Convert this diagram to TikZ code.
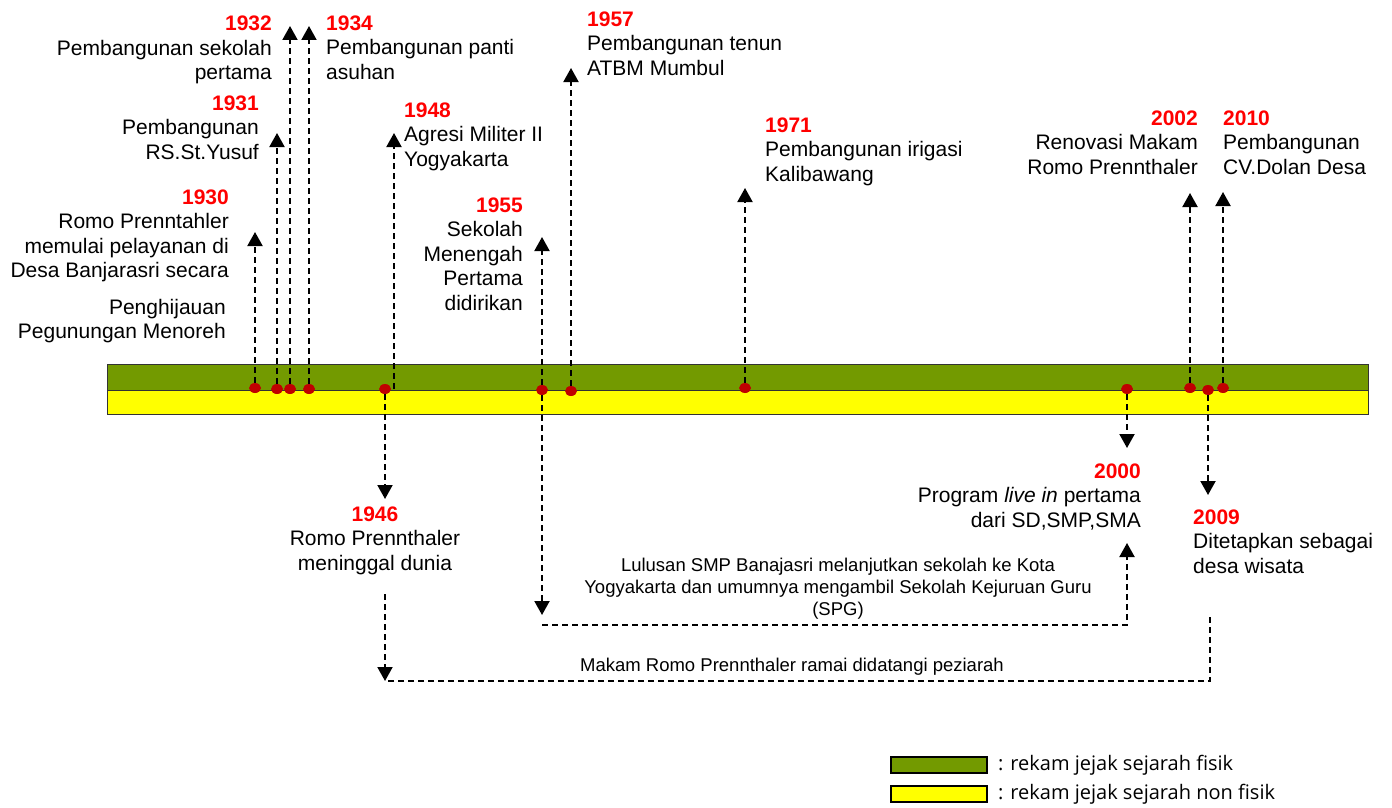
\documentclass[tikz,border=0pt]{standalone}
\usepackage{fontspec}
\setmainfont{Liberation Sans}
\newfontfamily\legendfont{Open Sans}
\usetikzlibrary{shapes.geometric, arrows.meta}
\definecolor{bandgreen}{RGB}{115,154,0}
\definecolor{bandyellow}{RGB}{255,255,0}
\definecolor{dotred}{RGB}{192,0,0}
\definecolor{yearred}{RGB}{255,0,0}
\tikzstyle{dot} = [ellipse, fill=dotred, minimum width=12pt, minimum height=10pt, inner sep=0pt]
\tikzstyle{event} = [inner sep=0pt, font=\fontsize{21}{24.5}\selectfont]
\tikzstyle{note} = [inner sep=0pt, align=center, font=\fontsize{18.5}{22}\selectfont]
\tikzstyle{legend} = [inner sep=0pt, anchor=west, font=\legendfont\fontsize{20}{22}\selectfont]
\tikzstyle{arrow} = [line width=2pt, dash pattern=on 6pt off 4pt, -{Triangle[width=15pt,length=14pt]}]
\tikzstyle{link} = [line width=2pt, dash pattern=on 6pt off 4pt]
\tikzstyle{band} = [draw=black!80, line width=1pt]
\newcommand{\yr}[1]{{\color{yearred}\bfseries #1}}

\begin{document}
\begin{tikzpicture}[x=1pt, y=-1pt]

\useasboundingbox (0,0) rectangle (1392,808);

\draw [band, fill=bandgreen] (107,364) rectangle (1368,390);
\draw [band, fill=bandyellow] (107,390) rectangle (1368,414);

\node (d1930) [dot] at (255,388) {};
\node (d1931) [dot] at (277,389) {};
\node (d1932) [dot] at (290,389) {};
\node (d1934) [dot] at (309,389) {};
\node (d1946) [dot] at (385,389) {};
\node (d1955) [dot] at (542,390) {};
\node (d1957) [dot] at (571,391) {};
\node (d1971) [dot] at (745,388) {};
\node (d2000) [dot] at (1127,389) {};
\node (d2002) [dot] at (1190,388) {};
\node (d2009) [dot] at (1208,390) {};
\node (d2010) [dot] at (1223,388) {};
\coordinate (b1948) at (394,389);

\coordinate (t1930) at (255,232);
\coordinate (t1931) at (277,133);
\coordinate (t1932) at (290,26);
\coordinate (t1934) at (309,26);
\coordinate (t1948) at (394,133);
\coordinate (t1955) at (542,237);
\coordinate (t1957) at (571,68);
\coordinate (t1971) at (745,188);
\coordinate (t2002) at (1190,193);
\coordinate (t2010) at (1223,192);
\coordinate (t1946) at (385,499);
\coordinate (t2000) at (1127,448);
\coordinate (t2009) at (1208,495);
\coordinate (t1955b) at (542,615);

\coordinate (m1946) at (385,594);
\coordinate (n1946) at (385,681);
\coordinate (m2009) at (1210,617);
\coordinate (m1955) at (542,625);
\coordinate (n2000) at (1127,543);

\node (l1932) [event, anchor=base east, align=right] at (272,80) {\yr{1932}\\Pembangunan sekolah\\pertama};
\node (l1934) [event, anchor=base west, align=left] at (326,79) {\yr{1934}\\Pembangunan panti\\asuhan};
\node (l1931) [event, anchor=base east, align=right] at (259,159) {\yr{1931}\\Pembangunan\\RS.St.Yusuf};
\node (l1930) [event, anchor=base east, align=right] at (229,277.5) {\yr{1930}\\Romo Prenntahler\\memulai pelayanan di\\Desa Banjarasri secara};
\node (l1930b) [event, anchor=base east, align=right] at (226,338.5) {Penghijauan\\Pegunungan Menoreh};
\node (l1948) [event, anchor=base west, align=left] at (404,166) {\yr{1948}\\Agresi Militer II\\Yogyakarta};
\node (l1955) [event, anchor=base east, align=right] at (523,310) {\yr{1955}\\Sekolah\\Menengah\\Pertama\\didirikan};
\node (l1957) [event, anchor=base west, align=left] at (587,75) {\yr{1957}\\Pembangunan tenun\\ATBM Mumbul};
\node (l1971) [event, anchor=base west, align=left] at (765,181) {\yr{1971}\\Pembangunan irigasi\\Kalibawang};
\node (l2002) [event, anchor=base east, align=right] at (1198,174) {\yr{2002}\\Renovasi Makam\\Romo Prennthaler};
\node (l2010) [event, anchor=base west, align=left] at (1223,174) {\yr{2010}\\Pembangunan\\CV.Dolan Desa};
\node (l1946) [event, anchor=base, align=center] at (375,570) {\yr{1946}\\Romo Prennthaler\\meninggal dunia};
\node (l2000) [event, anchor=base east, align=right] at (1141,527) {\yr{2000}\\Program \textit{live in} pertama\\dari SD,SMP,SMA};
\node (l2009) [event, anchor=base west, align=left] at (1193,573) {\yr{2009}\\Ditetapkan sebagai\\desa wisata};

\node (lulus) [note, anchor=base] at (838,615) {Lulusan SMP Banajasri melanjutkan sekolah ke Kota\\Yogyakarta dan umumnya mengambil Sekolah Kejuruan Guru\\(SPG)};
\node (makam) [note, anchor=base] at (792,671) {Makam Romo Prennthaler ramai didatangi peziarah};

\draw [arrow] (d1930) -- (t1930);
\draw [arrow] (d1931) -- (t1931);
\draw [arrow] (d1932) -- (t1932);
\draw [arrow] (d1934) -- (t1934);
\draw [arrow] (b1948) -- (t1948);
\draw [arrow] (d1955) -- (t1955);
\draw [arrow] (d1957) -- (t1957);
\draw [arrow] (d1971) -- (t1971);
\draw [arrow] (d2002) -- (t2002);
\draw [arrow] (d2010) -- (t2010);

\draw [arrow] (d1946) -- (t1946);
\draw [arrow] (d2000) -- (t2000);
\draw [arrow] (d2009) -- (t2009);
\draw [arrow] (d1955) -- (t1955b);

\draw [arrow] (m1946) -- (n1946);
\draw [link] (m2009) |- (n1946);
\draw [arrow] (m1955) -| (n2000);

\draw [line width=1.5pt, fill=bandgreen] (891,757) rectangle (987,773);
\draw [line width=1.5pt, fill=bandyellow] (891,786) rectangle (987,802);
\node (kfisik) [legend] at (998,765) {: rekam jejak sejarah fisik};
\node (knonfisik) [legend] at (998,794) {: rekam jejak sejarah non fisik};

\end{tikzpicture}
\end{document}
